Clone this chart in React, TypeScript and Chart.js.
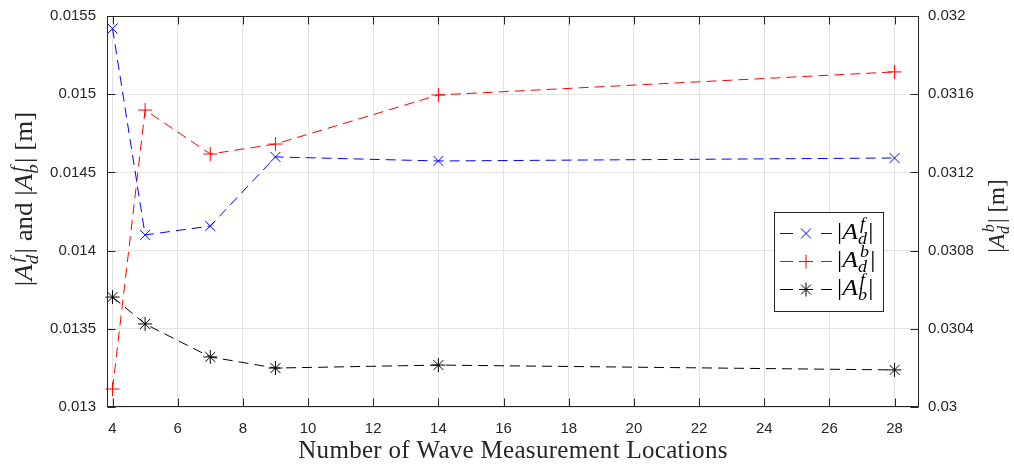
import React, { useEffect, useRef } from "react";
import { Chart, registerables } from "chart.js";

Chart.register(...registerables);

const xValues = [4, 5, 7, 9, 14, 28];
const adfValues = [0.01542, 0.0141, 0.014157, 0.014599, 0.014573, 0.014592];
const adbValues = [0.030092, 0.031519, 0.031294, 0.031345, 0.031596, 0.031714];
const abfValues = [0.013703, 0.013531, 0.01332, 0.013249, 0.013268, 0.013237];

const xTicks = [4, 6, 8, 10, 12, 14, 16, 18, 20, 22, 24, 26, 28];
const leftTicks = [0.013, 0.0135, 0.014, 0.0145, 0.015, 0.0155];
const rightTicks = [0.03, 0.0304, 0.0308, 0.0312, 0.0316, 0.032];

const xTitle = "Number of Wave Measurement Locations";

type Seg = { t: string; it?: boolean; sup?: string; sub?: string };

const SERIF = '"Liberation Serif", "Times New Roman", serif';
const AXIS = "#262626";

function segFont(size: number, it?: boolean) {
  return `${it ? "italic " : ""}${size}px ${SERIF}`;
}

function measureMath(ctx: CanvasRenderingContext2D, segs: Seg[], size: number) {
  let w = 0;
  for (const s of segs) {
    ctx.font = segFont(size, s.it);
    w += ctx.measureText(s.t).width;
    if (s.sup || s.sub) {
      ctx.font = segFont(size * 0.7, true);
      const a = s.sup ? ctx.measureText(s.sup).width + size * 0.08 : 0;
      const b = s.sub ? ctx.measureText(s.sub).width : 0;
      w += Math.max(a, b) + size * 0.05;
    }
  }
  return w;
}

function drawMath(
  ctx: CanvasRenderingContext2D,
  segs: Seg[],
  x: number,
  y: number,
  size: number,
  align: "left" | "center",
  sx: number
) {
  ctx.save();
  ctx.translate(x, y);
  ctx.scale(sx, 1);
  const total = measureMath(ctx, segs, size);
  let cx = align === "center" ? -total / 2 : 0;
  ctx.textAlign = "left";
  ctx.textBaseline = "alphabetic";
  for (const s of segs) {
    ctx.font = segFont(size, s.it);
    ctx.fillText(s.t, cx, 0);
    cx += ctx.measureText(s.t).width;
    if (s.sup || s.sub) {
      ctx.font = segFont(size * 0.7, true);
      let a = 0;
      let b = 0;
      if (s.sup) {
        ctx.fillText(s.sup, cx + size * 0.08, -size * 0.42);
        a = ctx.measureText(s.sup).width + size * 0.08;
      }
      if (s.sub) {
        ctx.fillText(s.sub, cx, size * 0.22);
        b = ctx.measureText(s.sub).width;
      }
      cx += Math.max(a, b) + size * 0.05;
    }
  }
  ctx.restore();
}

const leftTitle: Seg[] = [
  { t: "|" },
  { t: "A", it: true, sup: "f", sub: "d" },
  { t: "|" },
  { t: " and " },
  { t: "|" },
  { t: "A", it: true, sup: "f", sub: "b" },
  { t: "|" },
  { t: " [m]" },
];
const rightTitle: Seg[] = [
  { t: "|" },
  { t: "A", it: true, sup: "b", sub: "d" },
  { t: "|" },
  { t: " [m]" },
];
const legendItems: { label: Seg[]; color: string; style: string }[] = [
  { label: [{ t: "|" }, { t: "A", it: true, sup: "f", sub: "d" }, { t: "|" }], color: "#0000ff", style: "crossRot" },
  { label: [{ t: "|" }, { t: "A", it: true, sup: "b", sub: "d" }, { t: "|" }], color: "#ff0000", style: "cross" },
  { label: [{ t: "|" }, { t: "A", it: true, sup: "f", sub: "b" }, { t: "|" }], color: "#000000", style: "star" },
];

function drawMarker(ctx: CanvasRenderingContext2D, style: string, x: number, y: number, r: number) {
  ctx.beginPath();
  if (style === "cross" || style === "star") {
    ctx.moveTo(x - r, y);
    ctx.lineTo(x + r, y);
    ctx.moveTo(x, y - r);
    ctx.lineTo(x, y + r);
  }
  if (style === "crossRot" || style === "star") {
    const d = r * Math.SQRT1_2;
    ctx.moveTo(x - d, y - d);
    ctx.lineTo(x + d, y + d);
    ctx.moveTo(x - d, y + d);
    ctx.lineTo(x + d, y - d);
  }
  ctx.stroke();
}

const decorPlugin = {
  id: "decor",
  afterDatasetsDraw(chart: any) {
    const ctx: CanvasRenderingContext2D = chart.ctx;
    const { left, right, top, bottom } = chart.chartArea;
    const xs = chart.scales.x;
    const yl = chart.scales.yL;
    const yr = chart.scales.yR;
    const L = Math.round(left) + 0.5;
    const R = Math.round(right) - 0.5;
    const T = Math.round(top) + 0.5;
    const B = Math.round(bottom) - 0.5;
    ctx.save();
    ctx.strokeStyle = AXIS;
    ctx.lineWidth = 1;
    ctx.setLineDash([]);
    ctx.strokeRect(L, T, R - L, B - T);
    const tl = 8;
    ctx.beginPath();
    for (const v of xTicks) {
      const px = Math.round(xs.getPixelForValue(v)) + 0.5;
      ctx.moveTo(px, B);
      ctx.lineTo(px, B - tl);
      ctx.moveTo(px, T);
      ctx.lineTo(px, T + tl);
    }
    for (const v of leftTicks) {
      const py = Math.round(yl.getPixelForValue(v)) + 0.5;
      ctx.moveTo(L, py);
      ctx.lineTo(L + tl, py);
    }
    for (const v of rightTicks) {
      const py = Math.round(yr.getPixelForValue(v)) + 0.5;
      ctx.moveTo(R, py);
      ctx.lineTo(R - tl, py);
    }
    ctx.stroke();
    ctx.restore();
  },
  afterDraw(chart: any) {
    const ctx: CanvasRenderingContext2D = chart.ctx;
    ctx.save();
    ctx.fillStyle = AXIS;
    // x title
    ctx.font = `25px ${SERIF}`;
    (ctx as any).letterSpacing = "0.3px";
    ctx.textAlign = "center";
    ctx.textBaseline = "alphabetic";
    ctx.fillText(xTitle, 513, 458);
    (ctx as any).letterSpacing = "0px";
    // left title
    ctx.save();
    ctx.translate(32, 199);
    ctx.rotate(-Math.PI / 2);
    drawMath(ctx, leftTitle, 0, 0, 25, "center", 1.08);
    ctx.restore();
    // right title
    ctx.save();
    ctx.translate(1004, 216);
    ctx.rotate(-Math.PI / 2);
    drawMath(ctx, rightTitle, 0, 0, 23, "center", 1.0);
    ctx.restore();
    // legend
    const bx = 774.5, by = 212.5, bw = 109, bh = 99;
    ctx.fillStyle = "#ffffff";
    ctx.fillRect(bx, by, bw, bh);
    ctx.strokeStyle = AXIS;
    ctx.lineWidth = 1;
    ctx.setLineDash([]);
    ctx.strokeRect(bx, by, bw, bh);
    const rows = [233, 261, 289];
    legendItems.forEach((it, i) => {
      const y = rows[i] + 0.5;
      ctx.strokeStyle = it.color;
      ctx.lineWidth = 1;
      ctx.setLineDash([13, 28]);
      ctx.beginPath();
      ctx.moveTo(780, y);
      ctx.lineTo(832, y);
      ctx.stroke();
      ctx.setLineDash([]);
      drawMarker(ctx, it.style, 806, y, 7);
      ctx.fillStyle = "#000000";
      drawMath(ctx, it.label, 837, rows[i] + 6, 23, "left", 1.12);
    });
    ctx.restore();
  },
};

export default function App() {
  const ref = useRef<HTMLCanvasElement | null>(null);
  useEffect(() => {
    if (!ref.current) return;
    const mk = (ys: number[]) => xValues.map((x, i) => ({ x, y: ys[i] }));
    const tickFont = { family: '"Liberation Sans", Arial, sans-serif', size: 15 };
    const chart = new Chart(ref.current, {
      type: "line",
      data: {
        datasets: [
          {
            label: "Adf",
            data: mk(adfValues),
            yAxisID: "yL",
            borderColor: "#0000ff",
            pointBorderColor: "#0000ff",
            pointStyle: "crossRot",
          },
          {
            label: "Adb",
            data: mk(adbValues),
            yAxisID: "yR",
            borderColor: "#ff0000",
            pointBorderColor: "#ff0000",
            pointStyle: "cross",
          },
          {
            label: "Abf",
            data: mk(abfValues),
            yAxisID: "yL",
            borderColor: "#000000",
            pointBorderColor: "#000000",
            pointStyle: "star",
          },
        ].map((d) => ({
          ...d,
          borderWidth: 1,
          borderDash: [10, 6],
          tension: 0,
          fill: false,
          pointRadius: 7,
          pointBorderWidth: 1,
          pointBackgroundColor: "transparent",
          clip: false as any,
        })) as any,
      },
      options: {
        animation: false,
        responsive: false,
        devicePixelRatio: 1,
        layout: { autoPadding: false, padding: { top: 16, left: 0, right: 0, bottom: 0 } },
        plugins: { legend: { display: false }, tooltip: { enabled: false }, title: { display: false } },
        elements: { line: { borderCapStyle: "butt" } },
        scales: {
          x: {
            type: "linear",
            min: 3.83,
            max: 28.75,
            afterBuildTicks: (s: any) => {
              s.ticks = xTicks.map((v) => ({ value: v }));
            },
            afterFit: (s: any) => {
              s.height = 57;
              s.paddingLeft = 0;
              s.paddingRight = 0;
            },
            ticks: {
              font: tickFont,
              color: AXIS,
              padding: 13,
              maxRotation: 0,
              autoSkip: false,
              callback: (v: any) => String(v),
            },
            grid: { color: "#e3e3e3", drawTicks: false },
            border: { display: false },
          },
          yL: {
            type: "linear",
            position: "left",
            min: 0.013,
            max: 0.0155,
            afterBuildTicks: (s: any) => {
              s.ticks = leftTicks.map((v) => ({ value: v }));
            },
            afterFit: (s: any) => {
              s.width = 107;
              s.paddingTop = 0;
              s.paddingBottom = 0;
            },
            ticks: { font: tickFont, color: AXIS, padding: 11, callback: (v: any) => String(v) },
            grid: { color: "#e3e3e3", drawTicks: false },
            border: { display: false },
          },
          yR: {
            type: "linear",
            position: "right",
            min: 0.03,
            max: 0.032,
            afterBuildTicks: (s: any) => {
              s.ticks = rightTicks.map((v) => ({ value: v }));
            },
            afterFit: (s: any) => {
              s.width = 95;
              s.paddingTop = 0;
              s.paddingBottom = 0;
            },
            ticks: { font: tickFont, color: AXIS, padding: 9, callback: (v: any) => String(v) },
            grid: { display: false, drawTicks: false },
            border: { display: false },
          },
        },
      } as any,
      plugins: [decorPlugin],
    });
    return () => chart.destroy();
  }, []);
  return (
    <div style={{ position: "absolute", left: 0, top: 0, width: 1014, height: 464, background: "#fff" }}>
      <canvas ref={ref} width={1014} height={464} />
    </div>
  );
}
